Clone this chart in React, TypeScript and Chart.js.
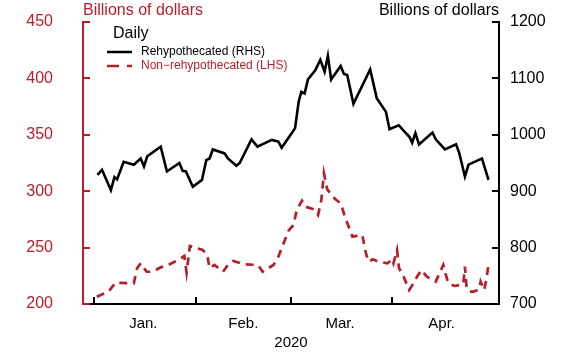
import { useEffect, useRef } from 'react';
import { Chart, registerables } from 'chart.js';

Chart.register(...registerables);

const RED = 'rgb(182,30,42)';
const BLACK = '#000';
const FONT = "'Liberation Sans', Arial, Helvetica, sans-serif";

// Days counted from Jan 1, 2020
const monthStartDays = [0, 31, 60, 91];
const monthLabelDays = [15, 45.5, 75, 106];
const monthLabels = ['Jan.', 'Feb.', 'Mar.', 'Apr.'];
const yearLabel = '2020';

const leftTicks = [200, 250, 300, 350, 400, 450];
const rightTicks = [700, 800, 900, 1000, 1100, 1200];

// Rehypothecated (RHS), billions of dollars
const rehypDays = [1.0, 2.4, 5.1, 6.2, 7, 9, 12.1, 14.2, 15.2, 16.2, 20.3, 22.2, 26, 27, 28, 30.1, 32.9, 34.2, 35.2, 36.2, 39.8, 40.8, 43.4, 44.4, 48, 49.8, 54.2, 56.2, 57.2, 60.3, 61.3, 62.4, 63.2, 64.2, 65.2, 67.5, 69, 70.3, 71.3, 72.3, 75.2, 76.2, 77.2, 79.1, 84.2, 86.2, 89, 90.1, 92.9, 96.2, 97, 98, 99.1, 103.2, 104.2, 107, 110.4, 111.4, 113.1, 114.2, 117.2, 118.3, 120.3];
const rehypValues = [929, 938, 902, 925, 921, 952, 947, 958, 944, 962, 979, 935, 950, 936, 935, 908, 920, 955, 958, 974, 967, 958, 945, 950, 992, 979, 991, 988, 977, 1003, 1012, 1059, 1076, 1073, 1098, 1115, 1133, 1112, 1140, 1098, 1122, 1108, 1106, 1055, 1116, 1065, 1041, 1010, 1017, 996, 986, 1003, 983, 1004, 992, 974, 983, 967, 926, 947, 955, 958, 920];

// Non-rehypothecated (LHS), billions of dollars
const nonRehypDays = [0.8, 4.4, 6.5, 12.1, 13.1, 14.2, 16, 17.8, 20.3, 22.6, 26, 27.5, 28.2, 29.2, 33.1, 34.5, 35.2, 36.7, 39.3, 40.8, 42.4, 45.9, 50, 51.4, 54.7, 56.2, 57.8, 59.3, 60.8, 61.8, 63.4, 64.4, 67, 68.3, 69.3, 70.1, 71.1, 73.6, 75.2, 76.5, 78.8, 81.8, 82.9, 83.7, 85, 86.8, 89.5, 90.9, 91.3, 92.4, 93, 94.2, 96.1, 97.3, 98.5, 99.8, 101.5, 104.2, 106.5, 107.2, 108, 110, 112.6, 113.1, 113.6, 114.6, 115.7, 117.5, 117.9, 119, 119.6, 120.3];
const nonRehypValues = [206.5, 210.9, 218.9, 218.4, 231.7, 236.1, 228.6, 228.6, 232.5, 234.6, 239.6, 242.6, 227.8, 251.4, 247.9, 243.4, 231.7, 234.6, 228.6, 234.6, 238.1, 235.2, 234.6, 228.6, 234.6, 241.9, 253.8, 265, 270, 283.3, 291.6, 286.3, 284, 278.9, 292.2, 315.9, 301.7, 292.8, 289.3, 277.4, 259.7, 261.2, 245, 237.5, 239.6, 237.5, 236.1, 239.6, 236.1, 247.9, 231.7, 225.7, 212.4, 217.7, 224.2, 230.1, 224.2, 219.8, 234.6, 227, 218.4, 216, 217.5, 233.1, 215.3, 210.9, 210.9, 213, 219.8, 212.4, 221.3, 234.6];

const TICK = 7;
const AREA = { left: 83, right: 499, top: 22, bottom: 304 };

const decorPlugin = {
  id: 'decor',
  afterDraw(chart: any) {
    const { ctx, chartArea } = chart;
    const { left, right, top, bottom } = chartArea;
    const xs = chart.scales.x;
    const yl = chart.scales.y;
    const yr = chart.scales.y1;
    ctx.save();
    ctx.lineCap = 'butt';
    ctx.strokeStyle = BLACK;
    ctx.lineWidth = 2;
    ctx.beginPath();
    ctx.moveTo(left + TICK, bottom);
    ctx.lineTo(right + 1, bottom);
    ctx.stroke();
    ctx.beginPath();
    monthStartDays.forEach((d) => {
      const px = Math.round(xs.getPixelForValue(d));
      ctx.moveTo(px, bottom);
      ctx.lineTo(px, bottom - TICK);
    });
    ctx.stroke();
    ctx.beginPath();
    ctx.moveTo(right, top - 1);
    ctx.lineTo(right, bottom + 1);
    rightTicks.forEach((v) => {
      const py = Math.round(yr.getPixelForValue(v));
      ctx.moveTo(right, py);
      ctx.lineTo(right - TICK, py);
    });
    ctx.stroke();
    ctx.strokeStyle = RED;
    ctx.beginPath();
    ctx.moveTo(left, top - 1);
    ctx.lineTo(left, bottom + 1);
    leftTicks.forEach((v) => {
      const py = Math.round(yl.getPixelForValue(v));
      ctx.moveTo(left, py);
      ctx.lineTo(left + TICK, py);
    });
    ctx.stroke();

    ctx.font = `16px ${FONT}`;
    ctx.textBaseline = 'middle';
    ctx.fillStyle = RED;
    ctx.textAlign = 'left';
    ctx.fillText('Billions of dollars', left, 11);
    ctx.fillStyle = BLACK;
    ctx.textAlign = 'right';
    ctx.fillText('Billions of dollars', right, 11);

    ctx.textAlign = 'left';
    ctx.fillStyle = BLACK;
    ctx.fillText('Daily', 113, 34);
    ctx.font = `12px ${FONT}`;
    ctx.lineWidth = 2.5;
    ctx.strokeStyle = BLACK;
    ctx.beginPath();
    ctx.moveTo(107, 52);
    ctx.lineTo(132, 52);
    ctx.stroke();
    ctx.fillText('Rehypothecated (RHS)', 141, 52);
    ctx.strokeStyle = RED;
    ctx.setLineDash([12, 8]);
    ctx.beginPath();
    ctx.moveTo(107, 66);
    ctx.lineTo(132, 66);
    ctx.stroke();
    ctx.setLineDash([]);
    ctx.fillStyle = RED;
    ctx.fillText('Non\u2212rehypothecated (LHS)', 141, 66);
    ctx.restore();
  },
};

export default function App() {
  const ref = useRef<HTMLCanvasElement>(null);
  useEffect(() => {
    document.body.style.margin = '0';
    const rehyp = rehypDays.map((d, i) => ({ x: d, y: rehypValues[i] }));
    const nonRehyp = nonRehypDays.map((d, i) => ({ x: d, y: nonRehypValues[i] }));
    const chart = new Chart(ref.current as HTMLCanvasElement, {
      type: 'line',
      data: {
        datasets: [
          {
            label: 'Non\u2212rehypothecated (LHS)',
            data: nonRehyp,
            yAxisID: 'y',
            borderColor: RED,
            borderWidth: 2.7,
            borderDash: [8, 6],
            pointRadius: 0,
            tension: 0,
            fill: false,
          },
          {
            label: 'Rehypothecated (RHS)',
            data: rehyp,
            yAxisID: 'y1',
            borderColor: BLACK,
            borderWidth: 2.6,
            pointRadius: 0,
            tension: 0,
            fill: false,
          },
        ],
      },
      options: {
        responsive: false,
        animation: false,
        devicePixelRatio: 1,
        layout: {
          padding: {
            top: AREA.top,
            left: 0,
            right: 0,
            bottom: 0,
          },
        },
        plugins: { legend: { display: false }, tooltip: { enabled: false }, title: { display: false } },
        scales: {
          x: {
            type: 'linear',
            min: -3.4,
            max: 123.5,
            grid: { display: false, drawTicks: false },
            border: { display: false },
            afterBuildTicks: (scale: any) => {
              scale.ticks = monthLabelDays.map((v) => ({ value: v }));
            },
            afterFit: (scale: any) => {
              scale.height = 354 - AREA.bottom;
              scale.paddingTop = 0;
              scale.paddingBottom = 0;
              scale.paddingLeft = 0;
              scale.paddingRight = 0;
            },
            ticks: {
              autoSkip: false,
              maxRotation: 0,
              padding: 11,
              color: BLACK,
              font: { family: FONT, size: 15 },
              callback: (value: any) => {
                const i = monthLabelDays.indexOf(Number(value));
                return i >= 0 ? monthLabels[i] : '';
              },
            },
            title: {
              display: true,
              text: yearLabel,
              color: BLACK,
              font: { family: FONT, size: 15 },
              padding: { top: 0, bottom: 2 },
            },
          },
          y: {
            position: 'left',
            min: 200,
            max: 450,
            grid: { display: false, drawTicks: false },
            border: { display: false },
            afterBuildTicks: (scale: any) => {
              scale.ticks = leftTicks.map((v) => ({ value: v }));
            },
            afterFit: (scale: any) => {
              scale.width = AREA.left;
              scale.paddingTop = 0;
              scale.paddingBottom = 0;
            },
            ticks: {
              padding: 30,
              color: RED,
              font: { family: FONT, size: 16 },
              callback: (v: any) => String(v),
            },
          },
          y1: {
            position: 'right',
            min: 700,
            max: 1200,
            grid: { display: false, drawTicks: false },
            border: { display: false },
            afterBuildTicks: (scale: any) => {
              scale.ticks = rightTicks.map((v) => ({ value: v }));
            },
            afterFit: (scale: any) => {
              scale.width = 575 - AREA.right;
              scale.paddingTop = 0;
              scale.paddingBottom = 0;
            },
            ticks: {
              padding: 11,
              color: BLACK,
              font: { family: FONT, size: 16 },
              callback: (v: any) => String(v),
            },
          },
        },
      },
      plugins: [decorPlugin],
    });
    return () => chart.destroy();
  }, []);
  return (
    <div style={{ width: 575, height: 354 }}>
      <canvas ref={ref} width={575} height={354} style={{ display: 'block' }} />
    </div>
  );
}
